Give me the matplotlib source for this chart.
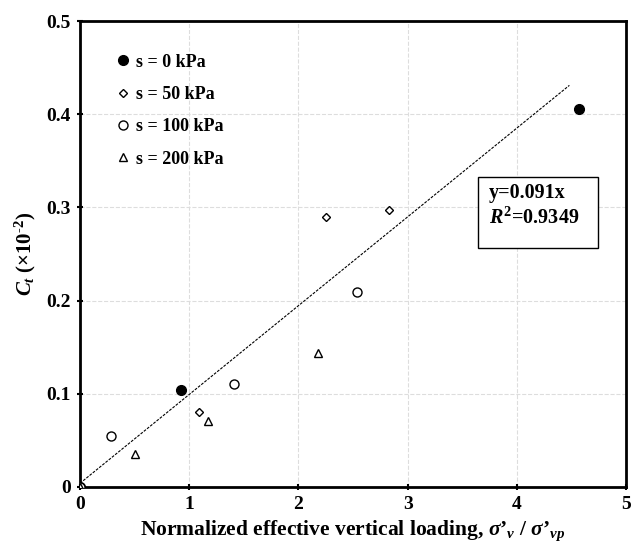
import numpy as np
import matplotlib.pyplot as plt
from matplotlib.patches import Rectangle

plt.rcParams['font.family'] = ['Liberation Serif', 'DejaVu Serif']
plt.rcParams['font.weight'] = 'bold'
plt.rcParams['mathtext.fontset'] = 'custom'
plt.rcParams['mathtext.rm'] = 'Liberation Serif:bold'
plt.rcParams['mathtext.it'] = 'Liberation Serif:italic:bold'
plt.rcParams['mathtext.bf'] = 'Liberation Serif:bold'

# data
s0_x = [0.0, 0.92, 4.57]
s0_y = [0.0, 0.104, 0.406]
s50_x = [1.09, 2.25, 2.83]
s50_y = [0.080, 0.290, 0.297]
s100_x = [0.0, 0.28, 1.41, 2.54]
s100_y = [0.0, 0.055, 0.110, 0.209]
s200_x = [0.0, 0.50, 1.17, 2.18]
s200_y = [0.0, 0.035, 0.071, 0.144]

# fitted trend line as drawn
fit_slope = 0.0953
fit_icpt = 0.004
fit_xmax = 4.48

fig = plt.figure(figsize=(6.37, 5.47), dpi=100)
ax = fig.add_axes([0.1256, 0.1097, 0.8574, 0.8519])

ax.plot(s0_x, s0_y, 'o', color='black', ms=7, label='s = 0 kPa', zorder=3)
ax.plot(s50_x, s50_y, 'D', mfc='white', mec='black', ms=4.5, mew=1, label='s = 50 kPa', zorder=3)
ax.plot(s100_x, s100_y, 'o', mfc='white', mec='black', ms=6.5, mew=1, label='s = 100 kPa', zorder=3)
ax.plot(s200_x, s200_y, '^', mfc='white', mec='black', ms=6, mew=1, label='s = 200 kPa', zorder=3)

xf = np.array([0, fit_xmax])
ax.plot(xf, fit_icpt + fit_slope * xf, '--', color='black', lw=0.8, dashes=(2.5, 1.2), zorder=2)

ax.set_xlim(0, 5)
ax.set_ylim(0, 0.5)
ax.set_xticks([0, 1, 2, 3, 4, 5])
ax.set_xticklabels(['0', '1', '2', '3', '4', '5'])
ax.set_yticks([0, 0.1, 0.2, 0.3, 0.4, 0.5])
ax.set_yticklabels(['0', '0.1', '0.2', '0.3', '0.4', '0.5'])
ax.tick_params(labelsize=14, direction='inout', length=5, width=1.5, pad=4)
ax.grid(True, color='#dddddd', ls='--', lw=0.8)
ax.set_axisbelow(True)
for sp in ax.spines.values():
    sp.set_linewidth(2)

ax.set_xlabel(r"Normalized effective vertical loading, $\sigma$’$_v$ / $\sigma$’$_{vp}$",
              fontsize=15.5, fontweight='bold', labelpad=4)
ax.set_ylabel(r"$C_t$ ($\times$10$^{\text{-2}}$)", fontsize=15, fontweight='bold', labelpad=6)

leg = ax.legend(loc='upper left', bbox_to_anchor=(0.033, 0.965), frameon=False,
                fontsize=13, handletextpad=0.2, labelspacing=0.85, handlelength=1.0,
                numpoints=1)
for t in leg.get_texts():
    t.set_fontweight('bold')

# equation box
ax.add_patch(Rectangle((3.64, 0.256), 1.10, 0.077, fc='white', ec='black', lw=1, zorder=4))
ax.text(3.745, 0.3155, "y=0.091x", fontsize=14.5, fontweight='bold', va='center', ha='left', zorder=5)
ax.text(3.745, 0.2885, "$R^2$=0.9349", fontsize=14.5, fontweight='bold', va='center', ha='left', zorder=5)

fig.savefig('out.png', dpi=100)
